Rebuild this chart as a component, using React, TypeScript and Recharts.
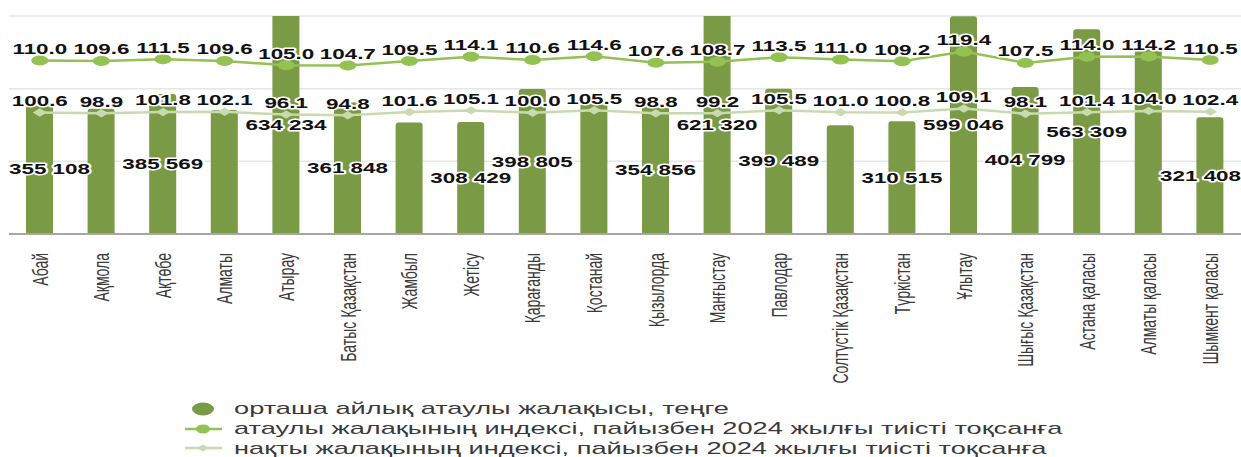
import React from 'react';
import { ComposedChart, Bar, Line, XAxis, YAxis, CartesianGrid, LabelList, Legend } from 'recharts';

// ---------- data ----------
const regions = [
  'Абай', 'Ақмола', 'Ақтөбе', 'Алматы', 'Атырау', 'Батыс Қазақстан', 'Жамбыл', 'Жетісу',
  'Қарағанды', 'Қостанай', 'Қызылорда', 'Манғыстау', 'Павлодар', 'Солтүстік Қазақстан',
  'Түркістан', 'Ұлытау', 'Шығыс Қазақстан', 'Астана қаласы', 'Алматы қаласы', 'Шымкент қаласы',
];

// average monthly nominal wage, tenge (unlabelled ones)
const wages = [
  355108, 345000, 385569, 341000, 634234, 361848, 307000, 308429, 398805, 360000,
  354856, 621320, 399489, 299000, 310515, 599046, 404799, 563309, 512000, 321408,
];

// regions whose wage value is not printed in the reference
const unlabelledWages = ['Ақмола', 'Алматы', 'Жамбыл', 'Қостанай', 'Солтүстік Қазақстан', 'Алматы қаласы'];

// nominal wage index, % to the corresponding quarter of 2024
const nominalIndex = [
  110.0, 109.6, 111.5, 109.6, 105.0, 104.7, 109.5, 114.1, 110.6, 114.6,
  107.6, 108.7, 113.5, 111.0, 109.2, 119.4, 107.5, 114.0, 114.2, 110.5,
];

// real wage index, % to the corresponding quarter of 2024
const realIndex = [
  100.6, 98.9, 101.8, 102.1, 96.1, 94.8, 101.6, 105.1, 100.0, 105.5,
  98.8, 99.2, 105.5, 101.0, 100.8, 109.1, 98.1, 101.4, 104.0, 102.4,
];

const wageTicks = [0, 200000, 400000, 600000];

const seriesNames = {
  wage: 'орташа айлық атаулы жалақысы, теңге',
  nominal: 'атаулы жалақының индексі, пайызбен 2024 жылғы тиісті тоқсанға',
  real: 'нақты жалақының индексі, пайызбен 2024 жылғы тиісті тоқсанға',
};

// ---------- style ----------
const W = 1241;
const H = 457;
const MARGIN = { top: 16, right: 0, left: 9, bottom: 0 };
const BAR_COLOR = '#7B9A46';
const NOM_COLOR = '#93C152';
const REAL_COLOR = '#C8DBAE';
const LABEL_SX = 1.6;
const TICK_SX = 1.55;
const LEGEND_SX = 1.6;

const fmtWage = (v: number) => String(Math.round(v)).replace(/\B(?=(\d{3})+(?!\d))/g, ' ');

const data = regions.map((name, i) => ({
  name,
  wage: wages[i],
  wageLabel: unlabelledWages.includes(name) ? '' : fmtWage(wages[i]),
  nominal: nominalIndex[i],
  real: realIndex[i],
}));

const labelTextStyle: React.SVGProps<SVGTextElement> = {
  fontFamily: '"Liberation Sans", Arial, sans-serif',
  fontWeight: 700,
  fontSize: 14,
  fill: '#111',
  stroke: '#fff',
  strokeWidth: 3,
  strokeLinejoin: 'round',
  paintOrder: 'stroke',
};

const estWidth = (s: string) => {
  let em = 0;
  for (const ch of s) em += ch === ' ' || ch === '.' ? 0.278 : 0.556;
  return em * 14 * LABEL_SX;
};

const BarValueLabel = (props: any) => {
  const { x, y, width, height, value } = props;
  if (!value) return null;
  const top = Math.max(y, MARGIN.top);
  const bottom = y + height;
  const cy = (top + bottom) / 2;
  const w = estWidth(String(value));
  let cx = x + width / 2;
  cx = Math.min(Math.max(cx, MARGIN.left + w / 2), W - MARGIN.right - w / 2);
  return (
    <text transform={`translate(${cx},${cy + 5}) scale(${LABEL_SX},1)`} textAnchor="middle" {...labelTextStyle}>
      {value}
    </text>
  );
};

const PointLabel = (props: any) => {
  const { x, y, value } = props;
  return (
    <text transform={`translate(${x},${y - 6.5}) scale(${LABEL_SX},1)`} textAnchor="middle" {...labelTextStyle}>
      {Number(value).toFixed(1)}
    </text>
  );
};

const NomDot = (props: any) => {
  const { cx, cy, index } = props;
  return <ellipse key={`nd-${index}`} cx={cx} cy={cy} rx={8.5} ry={5} fill={NOM_COLOR} />;
};

const RealDot = (props: any) => {
  const { cx, cy, index } = props;
  return (
    <path
      key={`rd-${index}`}
      d={`M${cx - 7},${cy} L${cx},${cy - 4.2} L${cx + 7},${cy} L${cx},${cy + 4.2} Z`}
      fill={REAL_COLOR}
    />
  );
};

const RegionTick = (props: any) => {
  const { x, y, payload } = props;
  return (
    <g transform={`translate(${x},${y})`}>
      <text
        transform={`scale(${TICK_SX},1) rotate(-90)`}
        x={-11}
        y={5}
        textAnchor="end"
        fontFamily='"Liberation Sans", Arial, sans-serif'
        fontSize={14}
        fill="#3A3A3A"
      >
        {payload.value}
      </text>
    </g>
  );
};

const legendRows = [
  { key: 'wage', label: seriesNames.wage },
  { key: 'nominal', label: seriesNames.nominal },
  { key: 'real', label: seriesNames.real },
];

const LegendIcon = ({ kind }: { kind: string }) => (
  <svg width={44} height={20} style={{ display: 'block', flex: 'none' }}>
    {kind === 'wage' && <ellipse cx={21} cy={10} rx={11} ry={6.5} fill={BAR_COLOR} />}
    {kind === 'nominal' && (
      <g>
        <line x1={3} y1={10} x2={40} y2={10} stroke={NOM_COLOR} strokeWidth={2.5} />
        <ellipse cx={21} cy={10} rx={7} ry={4.5} fill={NOM_COLOR} />
      </g>
    )}
    {kind === 'real' && (
      <g>
        <line x1={3} y1={10} x2={40} y2={10} stroke={REAL_COLOR} strokeWidth={2.5} />
        <path d="M15,10 L21,6.5 L27,10 L21,13.5 Z" fill={REAL_COLOR} />
      </g>
    )}
  </svg>
);

const LegendContent = () => (
  <div style={{ height: 60 }}>
    {legendRows.map((r) => (
      <div key={r.key} style={{ display: 'flex', alignItems: 'center', height: 19.7 }}>
        <LegendIcon kind={r.key} />
        <span
          style={{
            display: 'inline-block',
            marginLeft: 8,
            transform: `scaleX(${LEGEND_SX})`,
            transformOrigin: 'left center',
            fontFamily: '"Liberation Sans", Arial, sans-serif',
            fontSize: 17,
            lineHeight: '19px',
            color: '#3A3A3A',
            whiteSpace: 'nowrap',
          }}
        >
          {r.label}
        </span>
      </div>
    ))}
  </div>
);

export default function App() {
  return (
    <div style={{ position: 'absolute', left: 0, top: 0, width: W, height: H, background: '#fff' }}>
      <ComposedChart width={W} height={H} data={data} margin={MARGIN}>
        <CartesianGrid yAxisId="wage" vertical={false} stroke="#E6E6E6" strokeWidth={1.5} />
        <XAxis
          dataKey="name"
          interval={0}
          height={163}
          tick={<RegionTick />}
          tickLine={false}
          axisLine={{ stroke: '#A6A6A6', strokeWidth: 2 }}
        />
        <YAxis yAxisId="wage" hide domain={[0, 600000]} ticks={wageTicks} allowDataOverflow />
        <YAxis yAxisId="nom" hide domain={[-73, 157]} allowDataOverflow />
        <YAxis yAxisId="real" hide domain={[-158, 306]} allowDataOverflow />
        <Legend
          verticalAlign="bottom"
          align="left"
          content={<LegendContent />}
          wrapperStyle={{ left: 182, top: 399, width: 1050, height: 60 }}
        />
        <Bar
          yAxisId="wage"
          dataKey="wage"
          name={seriesNames.wage}
          fill={BAR_COLOR}
          barSize={27}
          radius={[3, 3, 0, 0]}
          isAnimationActive={false}
        >
          <LabelList dataKey="wageLabel" content={<BarValueLabel />} />
        </Bar>
        <Line
          yAxisId="real"
          dataKey="real"
          name={seriesNames.real}
          type="linear"
          stroke={REAL_COLOR}
          strokeWidth={2.5}
          dot={<RealDot />}
          activeDot={false}
          isAnimationActive={false}
        >
          <LabelList dataKey="real" content={<PointLabel />} />
        </Line>
        <Line
          yAxisId="nom"
          dataKey="nominal"
          name={seriesNames.nominal}
          type="linear"
          stroke={NOM_COLOR}
          strokeWidth={2.5}
          dot={<NomDot />}
          activeDot={false}
          isAnimationActive={false}
        >
          <LabelList dataKey="nominal" content={<PointLabel />} />
        </Line>
      </ComposedChart>
    </div>
  );
}
